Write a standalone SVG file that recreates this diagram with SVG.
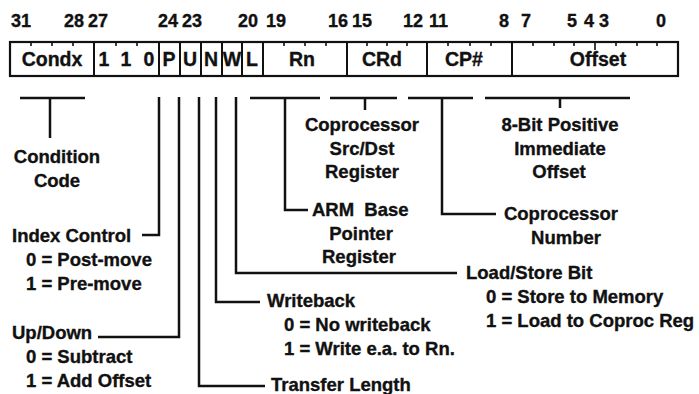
<svg xmlns="http://www.w3.org/2000/svg" width="699" height="394" viewBox="0 0 699 394">
<style>
text{font-family:"Liberation Sans",Arial,sans-serif;font-weight:bold;fill:#111;stroke:#111;stroke-width:0.35;}
.n{font-size:18px;}
.b{font-size:19.5px;text-anchor:middle;}
.t{font-size:18.5px;}
.c{font-size:18.5px;text-anchor:middle;}
.box{fill:none;stroke:#111;stroke-width:2.2;}
.d{stroke:#111;stroke-width:2;}
.tk{stroke:#111;stroke-width:1.6;}
.ln{fill:none;stroke:#111;stroke-width:2.5;}
</style>
<rect width="699" height="394" fill="#fff"/>
<g id="bitnumbers">
<text class="n" x="11" y="27">31</text>
<text class="n" x="64" y="27">28</text>
<text class="n" x="88" y="27">27</text>
<text class="n" x="158" y="27">24</text>
<text class="n" x="182" y="27">23</text>
<text class="n" x="238" y="27">20</text>
<text class="n" x="266" y="27">19</text>
<text class="n" x="328" y="27">16</text>
<text class="n" x="352" y="27">15</text>
<text class="n" x="403" y="27">12</text>
<text class="n" x="429" y="27">11</text>
<text class="n" x="499" y="27">8</text>
<text class="n" x="521" y="27">7</text>
<text class="n" x="567" y="27">5</text>
<text class="n" x="584" y="27">4</text>
<text class="n" x="599" y="27">3</text>
<text class="n" x="656" y="27">0</text>
</g>
<g id="instruction-word">
<rect class="box" x="10" y="42" width="668" height="34"/>
<line class="d" x1="94" y1="42" x2="94" y2="76"/>
<line class="d" x1="159" y1="42" x2="159" y2="76"/>
<line class="d" x1="180" y1="42" x2="180" y2="76"/>
<line class="d" x1="201" y1="42" x2="201" y2="76"/>
<line class="d" x1="222" y1="42" x2="222" y2="76"/>
<line class="d" x1="242" y1="42" x2="242" y2="76"/>
<line class="d" x1="263" y1="42" x2="263" y2="76"/>
<line class="d" x1="347" y1="42" x2="347" y2="76"/>
<line class="d" x1="427" y1="42" x2="427" y2="76"/>
<line class="d" x1="512" y1="42" x2="512" y2="76"/>
<path class="tk" d="M31,42v4M52,42v4M73,42v4M116,42v4M137,42v4M284,42v4M305,42v4M326,42v4M367,42v4M387,42v4M407,42v4M448,42v4M470,42v4M491,42v4M533,42v4M554,42v4M574,42v4M595,42v8M616,42v4M637,42v4M657,42v4"/>
<text class="b" x="52" y="66">Condx</text>
<text class="b" x="104" y="66">1</text>
<text class="b" x="126" y="66">1</text>
<text class="b" x="149" y="66">0</text>
<text class="b" x="169" y="66">P</text>
<text class="b" x="190" y="66">U</text>
<text class="b" x="211" y="66">N</text>
<text class="b" x="232" y="66">W</text>
<text class="b" x="252" y="66">L</text>
<text class="b" x="302" y="66">Rn</text>
<text class="b" x="382" y="66">CRd</text>
<text class="b" x="464" y="66">CP#</text>
<text class="b" x="598" y="66">Offset</text>
</g>
<g id="connectors">
<path class="ln" d="M20,98H85M50,98V138"/>
<path class="ln" d="M159,97V235H142"/>
<path class="ln" d="M179,97V337H98"/>
<path class="ln" d="M199,97V386H265"/>
<path class="ln" d="M216,97V302H260"/>
<path class="ln" d="M236,97V273H457"/>
<path class="ln" d="M250,98H320M285,98V210H308"/>
<path class="ln" d="M330,98H397M365,98V110"/>
<path class="ln" d="M408,98H473M442,98V214H496"/>
<path class="ln" d="M485,98H630M560,98V108"/>
</g>
<g id="condition-code">
<text class="c" x="57" y="163">Condition</text>
<text class="c" x="57" y="187">Code</text>
</g>
<g id="crd-label">
<text class="c" x="362" y="131">Coprocessor</text>
<text class="c" x="362" y="155">Src/Dst</text>
<text class="c" x="362" y="178">Register</text>
</g>
<g id="offset-label">
<text class="c" x="560" y="131">8-Bit Positive</text>
<text class="c" x="560" y="155">Immediate</text>
<text class="c" x="559" y="178">Offset</text>
</g>
<g id="rn-label">
<text class="t" x="312" y="216" style="word-spacing:5px">ARM Base</text>
<text class="c" x="361" y="240">Pointer</text>
<text class="c" x="359" y="263">Register</text>
</g>
<g id="cp-label">
<text class="c" x="561" y="220">Coprocessor</text>
<text class="c" x="566" y="244">Number</text>
</g>
<g id="load-store">
<text class="t" x="466" y="279">Load/Store Bit</text>
<text class="t" x="486" y="303">0 = Store to Memory</text>
<text class="t" x="486" y="327">1 = Load to Coproc Reg</text>
</g>
<g id="writeback">
<text class="t" x="267" y="307">Writeback</text>
<text class="t" x="284" y="331">0 = No writeback</text>
<text class="t" x="284" y="355">1 = Write e.a. to Rn.</text>
</g>
<g id="transfer-length">
<text class="t" x="271" y="391">Transfer Length</text>
</g>
<g id="index-control">
<text class="t" x="12" y="242">Index Control</text>
<text class="t" x="26" y="266">0 = Post-move</text>
<text class="t" x="26" y="290">1 = Pre-move</text>
</g>
<g id="up-down">
<text class="t" x="12" y="339">Up/Down</text>
<text class="t" x="26" y="363">0 = Subtract</text>
<text class="t" x="26" y="387">1 = Add Offset</text>
</g>
</svg>
